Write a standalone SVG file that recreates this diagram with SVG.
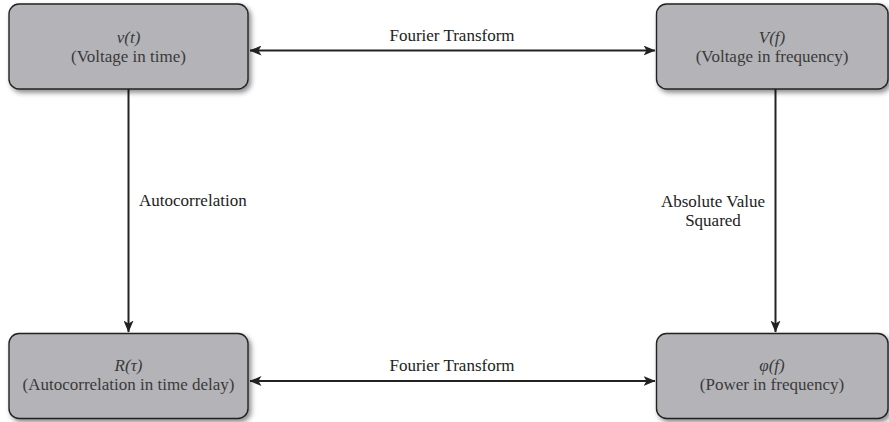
<svg xmlns="http://www.w3.org/2000/svg" width="889" height="422" viewBox="0 0 889 422">
<style>
.box{fill:#b4b4b8;stroke:#222;stroke-width:1.4;filter:url(#sh)}
.t{font-family:"Liberation Serif","DejaVu Serif",serif;font-size:17px;fill:#3a3a3a;text-anchor:middle}
.i{font-style:italic}
.l{font-family:"Liberation Serif","DejaVu Serif",serif;font-size:17px;fill:#222}
.c{stroke:#222;stroke-width:2;fill:none}
</style>
<defs>
<filter id="sh" x="-10%" y="-20%" width="125%" height="150%">
<feDropShadow dx="2.5" dy="3" stdDeviation="2.5" flood-color="#000" flood-opacity="0.45"/>
</filter>
<marker id="ah" viewBox="0 0 12 10" markerWidth="12" markerHeight="10" refX="11.5" refY="5" orient="auto-start-reverse" markerUnits="userSpaceOnUse">
<path d="M0,0 L12,5 L0,10 L3,5 Z" fill="#222"/>
</marker>
</defs>
<g id="connectors">
<line class="c" x1="250" y1="50.5" x2="655" y2="50.5" marker-start="url(#ah)" marker-end="url(#ah)"/>
<line class="c" x1="250" y1="381" x2="655" y2="381" marker-start="url(#ah)" marker-end="url(#ah)"/>
<line class="c" x1="128.5" y1="89" x2="128.5" y2="332" marker-end="url(#ah)"/>
<line class="c" x1="775.5" y1="89" x2="775.5" y2="332" marker-end="url(#ah)"/>
<text class="l" x="452" y="41" text-anchor="middle">Fourier Transform</text>
<text class="l" x="452" y="371" text-anchor="middle">Fourier Transform</text>
<text class="l" x="139" y="206">Autocorrelation</text>
<text class="l" x="713" y="207" text-anchor="middle">Absolute Value</text>
<text class="l" x="713" y="226" text-anchor="middle">Squared</text>
</g>
<g id="node-vt">
<rect class="box" x="9" y="4" width="239" height="85" rx="10"/>
<text class="t i" x="128.5" y="43">v(t)</text>
<text class="t" x="128.5" y="62">(Voltage in time)</text>
</g>
<g id="node-Vf">
<rect class="box" x="656.5" y="4" width="231.5" height="85" rx="10"/>
<text class="t i" x="772" y="43">V(f)</text>
<text class="t" x="772" y="62">(Voltage in frequency)</text>
</g>
<g id="node-Rtau">
<rect class="box" x="9" y="333.5" width="239" height="85" rx="10"/>
<text class="t i" x="128.5" y="371">R(τ)</text>
<text class="t" x="128.5" y="390">(Autocorrelation in time delay)</text>
</g>
<g id="node-phif">
<rect class="box" x="656.5" y="333.5" width="231.5" height="85" rx="10"/>
<text class="t i" x="772" y="371">φ(f)</text>
<text class="t" x="772" y="390">(Power in frequency)</text>
</g>
</svg>
